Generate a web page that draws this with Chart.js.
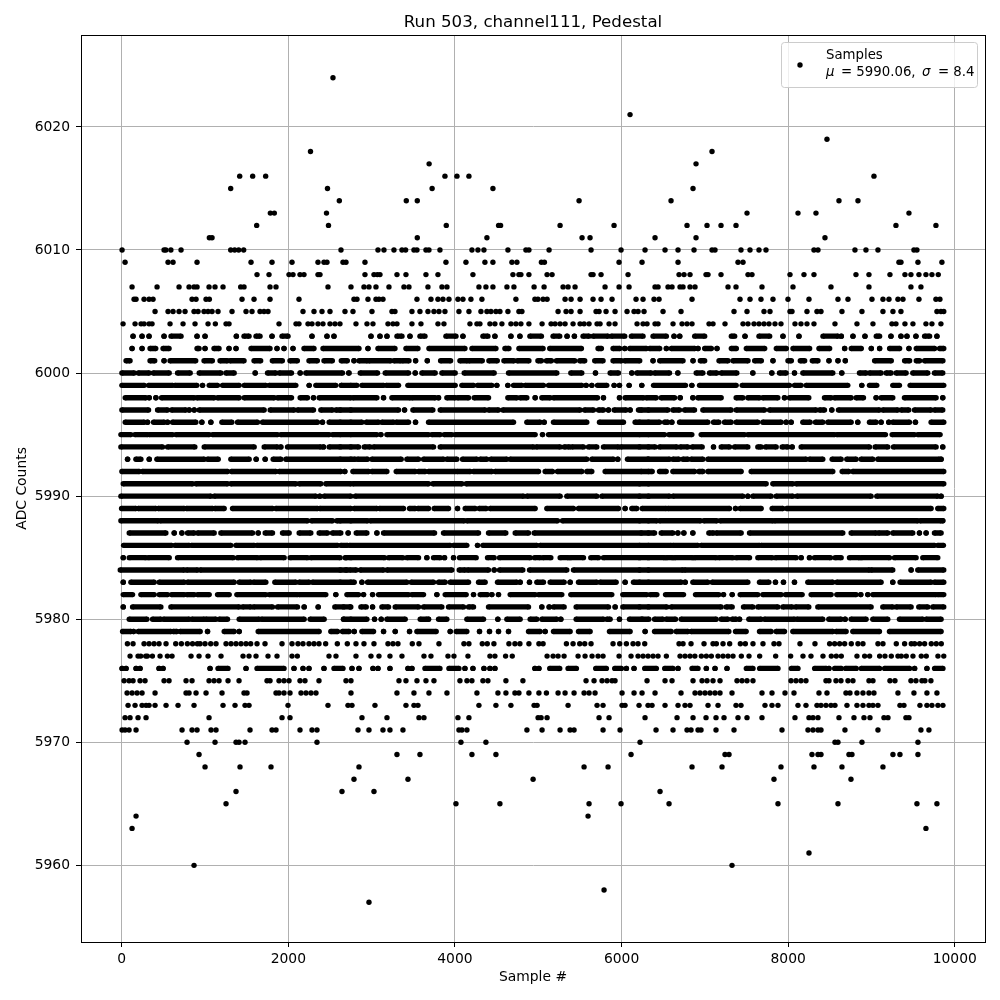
<!DOCTYPE html>
<html>
<head>
<meta charset="utf-8">
<title>Pedestal</title>
<script src="https://cdn.jsdelivr.net/npm/chart.js@4/dist/chart.umd.min.js"></script>
<style>
  html, body { margin: 0; padding: 0; background: #fff; }
  #wrap { width: 1000px; height: 1000px; }
</style>
</head>
<body>
<div id="wrap"><canvas id="pedestalChart" width="1000" height="1000"></canvas></div>
<script>
// tick labels
const sampleTicks = [0, 2000, 4000, 6000, 8000, 10000];
const adcTicks = [5960, 5970, 5980, 5990, 6000, 6010, 6020];

// sparse levels: sample numbers of single dots
const s5957 = [2968];
const s5958 = [5790];
const s5960 = [868, 7326];
const s5961 = [8250];
const s5963 = [124, 9654];
const s5964 = [172, 5598];
const s5965 = [1252, 4012, 4540, 5610, 5994, 6570, 7878, 8598, 9546, 9786];
const s5966 = [1372, 2644, 3028, 6462];
const s5967 = [2788, 3436, 4938, 7830, 8754];
const s5968 = [1000, 1420, 1792, 2848, 5550, 5838, 6846, 7206, 7914, 8310, 8646, 9138];
const s5969 = [928, 3304, 3580, 4204, 4492, 6114, 7242, 7290, 8286, 8358, 8394, 8730, 8766, 9258, 9342, 9558];
const s5970 = [784, 1120, 1372, 1408, 1480, 2344, 4072, 4372, 6222, 8562, 8598, 8886, 9558];
const s5971 = [4, 40, 88, 172, 724, 844, 904, 1072, 1132, 1540, 1804, 1852, 2140, 2284, 2344, 2836, 2968, 3136, 3220, 3376, 4048, 4084, 4144, 4864, 5046, 5262, 5382, 5430, 5778, 5982, 6414, 6618, 6786, 6834, 6918, 6954, 7134, 7350, 7926, 8238, 8298, 8358, 8394, 8682, 9078, 9594, 9690];
const s5972 = [40, 100, 196, 292, 1048, 1924, 2020, 2884, 3184, 3568, 3628, 4036, 4168, 4998, 5034, 5106, 5730, 5850, 6282, 6666, 6858, 7014, 7134, 7230, 7398, 7506, 7686, 8082, 8250, 8298, 8358, 8610, 8790, 8910, 8982, 9150, 9198, 9414, 9450];
const s5973 = [76, 160, 244, 292, 328, 400, 532, 676, 868, 1216, 1360, 1480, 1528, 1996, 2476, 2716, 2764, 3040, 3412, 3508, 3556, 4288, 4492, 4672, 4950, 4986, 5358, 5706, 5778, 6006, 6042, 6210, 6318, 6366, 6522, 6678, 6762, 6822, 7038, 7158, 7374, 7434, 7722, 7806, 7878, 8118, 8214, 8346, 8394, 8454, 8514, 8562, 8706, 8826, 8898, 8970, 9018, 9078, 9342, 9390, 9582, 9666, 9726, 9798, 9858];
const s5974 = [64, 124, 184, 244, 400, 772, 808, 892, 1012, 1204, 1468, 1504, 1852, 1888, 1948, 2020, 2152, 2212, 2272, 2332, 2752, 3304, 3508, 3688, 3904, 4264, 4516, 4612, 4720, 4768, 4888, 5008, 5098, 5238, 5322, 5430, 5550, 5610, 5682, 6006, 6150, 6246, 6402, 6714, 6882, 6942, 7002, 7062, 7122, 7182, 7326, 7686, 7806, 7962, 8070, 8370, 8466, 8694, 8742, 8826, 8898, 8970, 9030, 9318, 9510, 9666, 9786];
const s5975 = [28, 88, 136, 220, 280, 508, 568, 772, 844, 1048, 1108, 1168, 1276, 1408, 1744, 1780, 1888, 1948, 2008, 2140, 2200, 2368, 2692, 2752, 3328, 3412, 3544, 3652, 3748, 4060, 4144, 4204, 4336, 4396, 4612, 4816, 5574, 5670, 5766, 5826, 5886, 5922, 6306, 6522, 6606, 6858, 6966, 7026, 7098, 7182, 7386, 7446, 7506, 7578, 8034, 8094, 8154, 8214, 8454, 8490, 8574, 8634, 8718, 8778, 8970, 9018, 9222, 9282, 9474, 9534, 9606, 9642, 9714];
const s5977 = [100, 196, 228, 288, 308, 368, 460, 548, 604, 832, 928, 1036, 1192, 1456, 1528, 1612, 1756, 1864, 2044, 2108, 2488, 2572, 2812, 2992, 3088, 3220, 3364, 3628, 3712, 3916, 3988, 4156, 4420, 4480, 4608, 4688, 5106, 5178, 5238, 5310, 5478, 5562, 5646, 5718, 5778, 5970, 6114, 6198, 6258, 6318, 6378, 6438, 6538, 6702, 6762, 6822, 6880, 6958, 7018, 7078, 7158, 7218, 7278, 7338, 7438, 7530, 7658, 7850, 8030, 8178, 8274, 8418, 8518, 8578, 8638, 8826, 8918, 8978, 9098, 9162, 9238, 9318, 9358, 9418, 9498, 9598, 9658, 9798, 9868];
const s5978 = [68, 136, 268, 328, 388, 448, 532, 648, 716, 788, 850, 908, 940, 1000, 1068, 1132, 1252, 1312, 1372, 1432, 1492, 1548, 1624, 1720, 1924, 2044, 2116, 2176, 2248, 2308, 2368, 2448, 2588, 2708, 2812, 2908, 3028, 3196, 3256, 3316, 3488, 3568, 3808, 4108, 4168, 4328, 4388, 4468, 4648, 4720, 4780, 4888, 5008, 5058, 5338, 5418, 5498, 5558, 5634, 5898, 5978, 6058, 6138, 6198, 6278, 6690, 6738, 6834, 6990, 7098, 7138, 7218, 7298, 7426, 7486, 7578, 7698, 7830, 7890, 8142, 8322, 8498, 8558, 8618, 8678, 8758, 8838, 8898, 9078, 9138, 9298, 9398, 9478, 9518, 9578, 9638, 9718, 9778, 9838];
const s6004 = [16, 160, 232, 268, 328, 364, 580, 736, 880, 1036, 1124, 1252, 1288, 1888, 2092, 2128, 2236, 2284, 2356, 2416, 2500, 2560, 2620, 2812, 2944, 3016, 3196, 3256, 3304, 3484, 3592, 3796, 3868, 4180, 4264, 4300, 4420, 4480, 4564, 4672, 4732, 4792, 4888, 5046, 5154, 5202, 5262, 5322, 5418, 5502, 5550, 5610, 5706, 5742, 5850, 5922, 6186, 6258, 6306, 6402, 6438, 6618, 6726, 6786, 6846, 7050, 7098, 7242, 7458, 7518, 7590, 7650, 7710, 7770, 7842, 7914, 8082, 8154, 8226, 8310, 8562, 8826, 9018, 9246, 9294, 9402, 9498, 9654, 9726, 9834];
const s6005 = [400, 556, 616, 688, 760, 868, 916, 988, 1036, 1084, 1156, 1324, 1492, 1564, 1660, 1708, 1756, 2176, 2308, 2404, 2500, 2680, 2776, 3004, 3244, 3280, 3484, 3580, 3676, 3748, 3808, 3880, 4048, 4168, 4312, 4384, 4432, 4492, 4540, 4636, 4768, 4804, 5238, 5334, 5394, 5502, 5694, 5730, 5814, 5922, 6066, 6150, 6198, 6270, 6498, 6714, 7350, 7506, 7710, 7782, 8022, 8046, 8226, 8346, 8394, 8646, 8886, 9138, 9258, 9354, 9786, 9834, 9868];
const s6006 = [148, 172, 268, 328, 376, 844, 892, 1012, 1052, 1444, 1588, 1780, 2128, 2788, 2824, 2956, 3052, 3088, 3136, 3544, 3712, 3796, 3856, 3928, 4036, 4096, 4192, 4324, 4732, 4960, 4996, 5058, 5106, 5322, 5394, 5502, 5658, 5754, 5886, 6174, 6258, 6390, 6450, 6846, 7422, 7542, 7674, 7818, 7998, 8250, 8598, 8718, 9006, 9138, 9210, 9318, 9378, 9570, 9774, 9822];
const s6007 = [124, 424, 688, 808, 868, 904, 1048, 1120, 1216, 1428, 1468, 1780, 1852, 2476, 2752, 2908, 2968, 3052, 3208, 3388, 3448, 3676, 3844, 3904, 4288, 4372, 4456, 4624, 4708, 4950, 5070, 5298, 5358, 5442, 5802, 5970, 6090, 6402, 6438, 6558, 6606, 6702, 6738, 6822, 6882, 7278, 7374, 7686, 8058, 8514, 8970, 9474, 9594];
const s6008 = [1624, 1768, 2008, 2056, 2140, 2188, 2356, 2380, 2920, 3028, 3068, 3100, 3304, 3412, 3652, 3796, 4216, 4696, 4768, 4792, 4888, 5106, 5166, 5634, 5658, 5754, 6078, 6690, 6750, 6822, 7014, 7038, 7194, 7518, 7566, 8022, 8190, 8310, 8814, 8970, 9222, 9402, 9474, 9570, 9654, 9726, 9802];
const s6009 = [40, 556, 616, 904, 1552, 1804, 2044, 2356, 2428, 2464, 2656, 2692, 2920, 3892, 4132, 4360, 4456, 4684, 4744, 5038, 5074, 5970, 6246, 6678, 7398, 7458, 9330, 9354, 9558, 9846];
const s6010 = [4, 508, 530, 590, 712, 1308, 1356, 1404, 1464, 2632, 3076, 3148, 3268, 3364, 3408, 3508, 3544, 3652, 3688, 3820, 4204, 4276, 4348, 4636, 4852, 4888, 5130, 5634, 5994, 6282, 6522, 6678, 6870, 7086, 7122, 7434, 7542, 7650, 7734, 8310, 8358, 8802, 8934, 9078, 9510, 9546];
const s6011 = [1052, 1084, 3548, 4384, 5526, 5622, 6402, 6894, 8442];
const s6012 = [1620, 2482, 3896, 4524, 4548, 5262, 5910, 6786, 7026, 7194, 7374, 9294, 9774];
const s6013 = [1784, 1832, 2458, 7506, 8118, 8334, 9450];
const s6014 = [2612, 3416, 3548, 5490, 6594, 8610, 8838];
const s6015 = [1308, 2470, 3726, 4456, 6858];
const s6016 = [1416, 1572, 1728, 3880, 4024, 4168, 9030];
const s6017 = [3690, 6894];
const s6018 = [2266, 7086];
const s6019 = [8466];
const s6021 = [6102];
const s6024 = [2536];

const dotLevels = [5957, 5958, 5960, 5961, 5963, 5964, 5965, 5966, 5967, 5968, 5969, 5970, 5971, 5972, 5973, 5974, 5975, 5977, 5978, 6004, 6005, 6006, 6007, 6008, 6009, 6010, 6011, 6012, 6013, 6014, 6015, 6016, 6017, 6018, 6019, 6021, 6024];
const dotRows = [s5957, s5958, s5960, s5961, s5963, s5964, s5965, s5966, s5967, s5968, s5969, s5970, s5971, s5972, s5973, s5974, s5975, s5977, s5978, s6004, s6005, s6006, s6007, s6008, s6009, s6010, s6011, s6012, s6013, s6014, s6015, s6016, s6017, s6018, s6019, s6021, s6024];

// dense levels: the dots merge, so single samples can't be told apart.
// each list is start,end pairs of the merged runs read off the zoomed crops,
// a lone dot has start == end
const r5976 = [4,4, 52,52, 172,172, 220,220, 448,448, 496,496, 1060,1060, 1156,1276, 1492,1492, 1624,1948, 2068,2068, 2176,2176, 2248,2248, 2428,2428, 2548,2656, 2764,2764, 2848,2848, 3016,3016, 3076,3076, 3220,3220, 3436,3436, 3484,3484, 3640,3820, 3928,4048, 4120,4120, 4216,4216, 4348,4348, 4420,4420, 4480,4480, 4960,4960, 5008,5008, 5138,5258, 5358,5458, 5690,5818, 5918,5998, 6058,6058, 6150,6150, 6278,6418, 6518,6618, 6678,6678, 6846,6918, 7018,7018, 7122,7122, 7266,7266, 7498,7578, 7658,7878, 8038,8118, 8318,8458, 8490,8490, 8558,8638, 8690,8818, 8878,9098, 9158,9458, 9518,9518, 9666,9666, 9758,9858];
const r5979 = [10,110, 142,142, 198,590, 618,662, 702,942, 1030,1030, 1230,1350, 1410,1410, 1638,2370, 2510,2590, 2650,2730, 2791,2791, 2883,3023, 3143,3143, 3283,3283, 3455,3455, 3543,3775, 3943,3943, 4015,4143, 4295,4295, 4415,4415, 4523,4523, 4643,4643, 4883,5023, 5083,5083, 5183,5383, 5483,5623, 5855,6103, 6283,6283, 6396,6596, 6656,6796, 6836,7288, 7368,7496, 7656,7796, 7856,7956, 8056,8536, 8576,8696, 8776,9096, 9216,9836];
const r5980 = [90,302, 370,470, 502,810, 842,990, 1010,1130, 1170,1270, 1410,1650, 1678,2190, 2262,2430, 2662,2750, 2663,2943, 3035,3035, 3115,3115, 3183,3403, 3583,3663, 3683,3683, 3803,3903, 4143,4343, 4515,4515, 4623,4783, 4903,4983, 5043,5223, 5271,5271, 5455,5783, 5823,5863, 5975,5975, 6095,6243, 6248,6328, 6396,6496, 6536,6648, 6716,7136, 7196,7276, 7328,7376, 7416,7416, 7528,7676, 7716,8076, 8104,8416, 8488,8636, 8684,8684, 8756,8936, 9016,9196, 9336,9616, 9656,9836];
const r5981 = [18,18, 130,470, 590,1410, 1450,1550, 1582,1810, 1870,2110, 2190,2190, 2358,2358, 2558,2750, 2663,2743, 2871,2935, 3011,3011, 3123,3203, 3283,3563, 3623,3843, 3923,4103, 4163,4223, 4403,4883, 5043,5043, 5131,5131, 5183,5311, 5455,5843, 5923,5923, 6015,6323, 6216,6544, 6596,7196, 7256,7328, 7464,7576, 7636,7876, 7936,8048, 8088,8248, 8356,8996, 9136,9256, 9296,9476, 9568,9676, 9736,9868];
const r5982 = [18,130, 230,390, 450,550, 598,750, 782,870, 910,1050, 1150,1290, 1382,1730, 1770,2110, 2130,2450, 2570,2570, 2703,2843, 2903,2903, 3011,3011, 3083,3443, 3483,3623, 3783,3783, 3883,4135, 4223,4223, 4303,4391, 4443,4443, 4523,4523, 4663,4963, 5003,5283, 5391,5883, 6015,6303, 6344,6424, 6528,6744, 6888,7168, 7224,7224, 7328,7328, 7424,7636, 7696,7916, 7968,8168, 8276,8516, 8584,8816, 8872,8872, 8956,8956, 9016,9776, 9796,9868];
const r5983 = [18,18, 110,390, 450,750, 790,1350, 1410,1550, 1582,1730, 1838,2090, 2130,2250, 2290,2750, 2623,2791, 2883,2883, 2951,3423, 3475,3743, 3803,3883, 3943,4163, 4283,4363, 4511,4743, 4783,4783, 4895,4895, 4983,5063, 5143,5311, 5383,5383, 5483,5703, 5743,5935, 6043,6043, 6143,6323, 6216,6716, 6764,6764, 6856,7036, 7088,7516, 7656,7768, 7848,7848, 7944,7944, 8076,8076, 8236,8536, 8584,9116, 9256,9256, 9344,9716, 9756,9868];
const r5984 = [-18,750, 778,910, 942,2690, 2623,2711, 2735,2815, 2863,3143, 3183,3963, 4051,4123, 4151,4403, 4471,4471, 4535,4815, 4895,5343, 5423,6323, 6216,6736, 6756,8976, 8996,9256, 9476,9476, 9556,9868];
const r5985 = [18,18, 90,290, 318,570, 670,1338, 1390,1630, 1662,1950, 2022,2230, 2270,2622, 2690,2750, 2683,3155, 3203,3375, 3423,3563, 3663,3663, 3743,3823, 3875,3875, 3983,3983, 4055,4255, 4391,4471, 4535,4903, 4955,5023, 5055,5151, 5263,5363, 5383,5543, 5631,5723, 5783,6323, 6216,6516, 6536,6616, 6636,6856, 6876,7136, 7168,7336, 7376,7536, 7636,7808, 7848,8096, 8156,8156, 8256,8256, 8316,8508, 8564,8636, 8736,8856, 8876,9216, 9276,9536, 9616,9796];
const r5986 = [22,598, 638,810, 838,1310, 1370,1590, 1622,2590, 2630,2710, 2735,3943, 3983,4143, 4271,4271, 4335,4983, 5023,6323, 6216,6596, 6616,6916, 6956,7656, 7676,9756, 9796,9864];
const r5987 = [90,530, 630,630, 722,722, 790,870, 910,1110, 1190,1570, 1638,1638, 1722,1810, 1930,2010, 2130,2270, 2370,2470, 2530,2630, 2718,2718, 2815,2943, 3063,3063, 3143,3755, 3863,4283, 4403,4611, 4723,4883, 4951,6323, 6236,6396, 6476,6616, 6676,6676, 6748,6748, 6856,6856, 7048,7104, 7136,7436, 7536,8656, 8756,9056, 9084,9196, 9256,9496, 9576,9576, 9656,9656, 9756,9836];
const r5988 = [-10,438, 462,2230, 2278,2530, 2582,2750, 2623,2951, 2983,4111, 4143,5231, 5291,6323, 6216,6424, 6456,6948, 6988,7144, 7184,7816, 7836,9556, 9584,9836, 9856,9856];
const r5989 = [-2,170, 198,410, 438,750, 778,1090, 1118,1230, 1330,1810, 1850,2350, 2378,2750, 2791,3063, 3095,3383, 3455,3523, 3555,3683, 3751,3923, 4031,4031, 4123,4243, 4291,4375, 4423,4963, 5103,5423, 5483,5963, 6043,6043, 6123,6183, 6248,6536, 6556,7296, 7368,7368, 7424,7676, 7808,7936, 7984,9716, 9796,9868];
const r5990 = [-10,1070, 1110,2330, 2378,2378, 2430,2750, 2803,4823, 4863,5263, 5343,5703, 5763,6323, 6216,6576, 6616,7456, 7516,7516, 7576,7796, 7856,8056, 8104,8996, 9064,9796, 9836,9836];
const r5991 = [18,850, 890,1270, 1310,2090, 2130,2390, 2450,2750, 2775,3683, 3735,4083, 4135,6323, 6216,7736, 7816,8056, 8096,9868];
const r5992 = [2,210, 250,1270, 1318,1850, 1890,2630, 2678,2678, 2775,2963, 3003,3183, 3295,3523, 3563,3643, 3683,4003, 4023,4183, 4223,4443, 4483,5003, 5083,5171, 5231,5523, 5583,5643, 5803,6323, 6236,6368, 6456,6536, 6616,6876, 6928,6976, 7036,7436, 7556,8536, 8648,8728, 8776,9868];
const r5993 = [70,70, 170,230, 330,330, 422,990, 1030,1158, 1310,1530, 1614,1614, 1722,1722, 1818,1910, 1970,2750, 2623,2803, 2831,2951, 3003,3355, 3423,3563, 3623,3863, 3903,4023, 4091,4263, 4303,4383, 4431,4623, 4663,5583, 5643,5903, 5955,5955, 6071,6323, 6316,6576, 6616,6688, 6736,6796, 6836,6976, 7036,8216, 8256,8416, 8528,8636, 8704,8816, 8876,9016, 9076,9816, 9836,9836];
const r5994 = [-10,490, 550,878, 990,1590, 1710,1870, 1910,1910, 1990,2390, 2422,2422, 2490,2750, 2623,2843, 2911,2983, 3023,3743, 3823,4943, 4975,5263, 5311,5375, 5403,5543, 5603,5703, 5783,5963, 5991,6323, 6216,6404, 6456,6664, 6704,6796, 6848,6968, 7104,7104, 7196,7296, 7356,7516, 7636,7676, 7728,7856, 7928,7996, 8048,8048, 8156,8976, 9044,9196, 9264,9776, 9856,9856];
const r5995 = [-10,110, 158,310, 330,610, 650,1050, 1090,1870, 1910,2490, 2530,2750, 2623,3063, 3111,3111, 3183,3683, 3723,3823, 3871,3963, 4003,4963, 5051,5051, 5123,6323, 6216,6516, 6568,6844, 6956,7476, 7516,8556, 8584,9168, 9248,9516, 9556,9824];
const r5996 = [42,270, 310,310, 382,510, 550,550, 610,890, 962,962, 1070,1070, 1202,1322, 1390,1630, 1690,2350, 2410,2410, 2490,2750, 2623,2883, 2935,3083, 3123,3263, 3295,3443, 3527,3527, 3683,4703, 4863,5023, 5071,5071, 5183,5583, 5735,6023, 6163,6323, 6216,6456, 6516,6556, 6604,6604, 6696,7036, 7104,7168, 7236,7316, 7376,7636, 7696,7916, 7976,7976, 8036,8036, 8176,8264, 8328,8416, 8476,8756, 8836,8836, 8976,9056, 9116,9116, 9208,9208, 9256,9456, 9528,9528, 9716,9868];
const r5997 = [2,322, 430,550, 598,770, 810,810, 870,870, 930,1710, 1782,2070, 2110,2302, 2390,2530, 2570,2750, 2623,3323, 3395,3395, 3495,3735, 3823,4363, 4403,4523, 4575,5503, 5555,5663, 5723,5783, 5843,5843, 5911,6055, 6103,6103, 6203,6323, 6236,6556, 6616,6696, 6756,6876, 6976,7316, 7376,7716, 7776,8336, 8376,8436, 8524,8524, 8604,9096, 9136,9316, 9356,9448, 9516,9716, 9756,9856];
const r5998 = [42,290, 330,330, 410,410, 478,870, 902,1110, 1150,1410, 1470,1830, 1870,2038, 2142,2230, 2302,2302, 2370,2750, 2775,3063, 3143,3143, 3243,3463, 3483,3763, 3803,3803, 3903,4003, 4031,4163, 4231,4403, 4635,4743, 4783,4863, 4963,4963, 5043,5143, 5183,5711, 5783,5783, 5975,5975, 6043,6263, 6296,6416, 6476,6636, 6704,6704, 6856,6856, 6916,7196, 7376,7456, 7516,7656, 7696,7876, 7956,7956, 8016,8248, 8436,8516, 8556,8756, 8816,8904, 9056,9056, 9116,9256, 9396,9776, 9856,9856];
const r5999 = [2,270, 322,610, 638,902, 970,970, 1050,1150, 1210,1410, 1470,1730, 1770,2090, 2250,2250, 2330,2570, 2638,2750, 2635,2823, 2883,3143, 3175,3323, 3435,4003, 4083,4223, 4271,4443, 4503,4503, 4635,4635, 4703,4803, 4843,5063, 5123,5523, 5575,5575, 5643,5643, 5711,5823, 5911,5911, 5975,5975, 6091,6091, 6243,6243, 6384,6768, 6844,6844, 6936,7376, 7448,8016, 8076,8156, 8216,8716, 8884,8884, 8976,9064, 9256,9336, 9464,9868];
const r6000 = [2,150, 198,330, 378,570, 670,822, 930,1190, 1250,1350, 1602,1602, 1750,1850, 1890,2038, 2142,2142, 2210,2650, 2723,2730, 2863,3071, 3163,3443, 3523,3523, 3603,3763, 3843,4003, 4111,4471, 4643,5223, 5391,5523, 5687,5687, 5863,5963, 6123,6123, 6183,6356, 6396,6576, 6676,6676, 6896,6976, 7056,7144, 7196,7384, 7576,7576, 7804,7804, 7896,7976, 8076,8076, 8176,8536, 8644,8644, 8856,8936, 8976,9116, 9176,9236, 9296,9416, 9496,9676, 9756,9856];
const r6001 = [52,100, 340,396, 508,508, 580,888, 988,1088, 1180,1268, 1300,1468, 1588,1668, 1808,1928, 2020,2108, 2248,2348, 2428,2528, 2636,2708, 2788,2788, 2848,2948, 2968,3228, 3268,3348, 3368,3448, 3528,3528, 3668,3668, 3828,3948, 4060,4148, 4168,4328, 4408,4508, 4588,4708, 4748,4888, 4996,5038, 5098,5158, 5218,5438, 5498,5558, 5678,5778, 5898,5998, 6038,6218, 6378,6378, 6458,6738, 6858,6858, 6946,6998, 7170,7278, 7338,7518, 7598,7678, 7818,7818, 7998,8038, 8146,8198, 8290,8358, 8490,8490, 8598,8598, 8686,8686, 9038,9238, 9398,9458, 9538,9578, 9638,9858];
const r6002 = [124,124, 244,244, 340,408, 496,568, 904,928, 1000,1000, 1108,1168, 1288,1288, 1372,1372, 1552,1780, 1864,1864, 1948,1948, 2056,2056, 2188,2308, 2416,2848, 2956,2956, 3076,3280, 3412,3556, 3688,4120, 4204,4492, 4600,4648, 4768,5058, 5138,5518, 5718,5758, 5898,5978, 6038,6038, 6098,6298, 6338,6458, 6538,6538, 6598,6878, 6918,6918, 6998,7078, 7146,7146, 7318,7378, 7498,7718, 7858,7978, 8058,8258, 8370,8498, 8678,8678, 8758,8878, 8998,8998, 9098,9098, 9218,9338, 9450,9450, 9538,9758, 9818,9868];
const r6003 = [136,136, 244,244, 328,328, 508,508, 592,712, 904,904, 1000,1000, 1376,1376, 1468,1528, 1612,1660, 1804,1804, 1924,1996, 2284,2284, 2464,2464, 2548,2548, 2992,2992, 3100,3100, 3184,3184, 3304,3364, 3460,3460, 3580,3640, 3892,4012, 4096,4096, 4336,4396, 4480,4480, 4672,4672, 4780,4780, 4900,5038, 5178,5258, 5346,5346, 5434,5434, 5538,5610, 5658,5838, 5878,6038, 6118,6258, 6378,6538, 6630,6630, 6698,6698, 6878,6998, 7318,7358, 7482,7482, 7650,7778, 7938,7938, 8130,8130, 8418,8598, 8638,8638, 8778,8778, 8922,8922, 9058,9098, 9234,9234, 9354,9354, 9426,9426, 9534,9534, 9638,9698, 9786,9786];

const runLevels = [5976, 5979, 5980, 5981, 5982, 5983, 5984, 5985, 5986, 5987, 5988, 5989, 5990, 5991, 5992, 5993, 5994, 5995, 5996, 5997, 5998, 5999, 6000, 6001, 6002, 6003];
const runRows = [r5976, r5979, r5980, r5981, r5982, r5983, r5984, r5985, r5986, r5987, r5988, r5989, r5990, r5991, r5992, r5993, r5994, r5995, r5996, r5997, r5998, r5999, r6000, r6001, r6002, r6003];

const gap = { x: NaN, y: NaN };
const points = [];
dotLevels.forEach(function (level, i) {
  dotRows[i].forEach(function (x) {
    points.push({ x: x, y: level }, gap);
  });
});
runLevels.forEach(function (level, i) {
  const row = runRows[i];
  for (let k = 0; k < row.length; k += 2) {
    points.push({ x: row[k], y: level }, { x: row[k + 1], y: level }, gap);
  }
});

const fontName = '"DejaVu Sans", sans-serif';

// title, frame and legend box, matplotlib style
const framePlugin = {
  id: 'frame',
  afterDraw(chart) {
    const ctx = chart.ctx;
    const a = chart.chartArea;
    ctx.save();
    ctx.strokeStyle = '#000';
    ctx.lineWidth = 1;
    ctx.strokeRect(a.left + 0.5, a.top + 0.5, a.right - a.left, a.bottom - a.top);

    ctx.fillStyle = '#000';
    ctx.textAlign = 'center';
    ctx.textBaseline = 'alphabetic';
    ctx.font = '16.67px ' + fontName;
    ctx.fillText('Run 503, channel111, Pedestal', (a.left + a.right) / 2, 27);
    ctx.textAlign = 'left';

    ctx.beginPath();
    ctx.roundRect(781.5, 42.5, 196, 45, 3);
    ctx.fillStyle = 'rgba(255,255,255,0.8)';
    ctx.fill();
    ctx.strokeStyle = '#ccc';
    ctx.stroke();

    ctx.fillStyle = '#000';
    ctx.beginPath();
    ctx.arc(800, 65, 2.7, 0, Math.PI * 2);
    ctx.fill();

    ctx.font = '13.3px ' + fontName;
    ctx.fillText('Samples', 826, 59);
    ctx.fillText('= 5990.06,', 841, 76);
    ctx.fillText('= 8.4', 938, 76);
    ctx.font = 'italic 13.3px ' + fontName;
    ctx.fillText('μ', 826, 76);
    ctx.fillText('σ', 922, 76);
    ctx.restore();
  }
};

document.addEventListener('DOMContentLoaded', function () {
  const ctx = document.getElementById('pedestalChart').getContext('2d');
  new Chart(ctx, {
    type: 'scatter',
    data: {
      datasets: [{
        label: 'Samples',
        data: points,
        showLine: true,
        spanGaps: false,
        borderColor: '#000',
        borderWidth: 5.4,
        borderCapStyle: 'butt',
        backgroundColor: '#000',
        pointRadius: 2.7,
        pointBorderWidth: 0
      }]
    },
    options: {
      responsive: false,
      animation: false,
      events: [],
      layout: { padding: { top: 35, right: 15, bottom: 0, left: 0 } },
      plugins: {
        legend: { display: false },
        tooltip: { enabled: false }
      },
      scales: {
        x: {
          type: 'linear',
          min: -489,
          max: 10363,
          afterBuildTicks: function (scale) {
            scale.ticks = sampleTicks.map(function (v) { return { value: v }; });
          },
          afterFit: function (scale) { scale.height = 58; },
          grid: { color: '#b0b0b0', lineWidth: 1, tickColor: '#000', tickLength: 5 },
          border: { color: '#000' },
          ticks: { color: '#000', padding: 4, maxRotation: 0, font: { family: fontName, size: 13.89 }, callback: function (v) { return String(v); } },
          title: { display: true, text: 'Sample #', color: '#000', font: { family: fontName, size: 13.89 }, padding: { top: 4, bottom: 14 } }
        },
        y: {
          type: 'linear',
          min: 5953.77,
          max: 6027.47,
          afterBuildTicks: function (scale) {
            scale.ticks = adcTicks.map(function (v) { return { value: v }; });
          },
          afterFit: function (scale) { scale.width = 81; },
          grid: { color: '#b0b0b0', lineWidth: 1, tickColor: '#000', tickLength: 5 },
          border: { color: '#000' },
          ticks: { color: '#000', padding: 6, font: { family: fontName, size: 13.89 }, callback: function (v) { return String(v); } },
          title: { display: true, text: 'ADC Counts', color: '#000', font: { family: fontName, size: 13.89 }, padding: { top: 14, bottom: 0 } }
        }
      }
    },
    plugins: [framePlugin]
  });
});
</script>
</body>
</html>
